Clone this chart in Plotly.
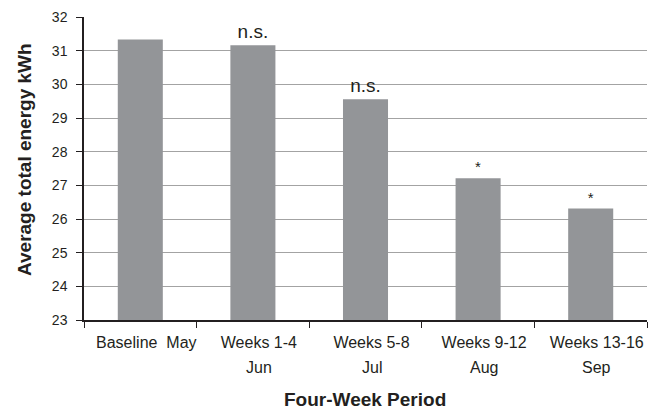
import plotly.graph_objects as go

# Average total energy use per four-week period
periods = ["Baseline  May", "Weeks 1-4", "Weeks 5-8", "Weeks 9-12", "Weeks 13-16"]
months = ["", "Jun", "Jul", "Aug", "Sep"]
energy_kwh = [31.33, 31.16, 29.56, 27.21, 26.31]
significance = ["", "n.s.", "n.s.", "*", "*"]

FONT = "Liberation Sans, Arial, sans-serif"
INK = "#231f20"
BAR_GREY = "#939598"
LABEL_SHIFT = 6  # category labels sit slightly right of the bar centres

W, H = 657, 412
ML, MR, MT, MB = 84, 10, 17, 92
plot_w = W - ML - MR
plot_h = H - MT - MB


def px_to_paper_y(py):
    return (H - MB - py) / plot_h


def px_to_paper_x(px):
    return (px - ML) / plot_w


fig = go.Figure()
fig.add_trace(go.Bar(
    x=periods,
    y=energy_kwh,
    width=0.4,
    marker=dict(color=BAR_GREY, line=dict(width=0)),
    text=significance,
    textposition="outside",
    textfont=dict(family=FONT, size=[1, 19, 19, 15, 15], color=INK),
    cliponaxis=False,
    showlegend=False,
))

# Second line of each category label (month)
for p, m in zip(periods, months):
    if m:
        fig.add_annotation(
            x=p, xref="x", y=px_to_paper_y(367), yref="paper", xshift=LABEL_SHIFT,
            text=m, showarrow=False,
            font=dict(family=FONT, size=16, color=INK),
            yanchor="middle",
        )

# Axis titles
fig.add_annotation(
    x=px_to_paper_x(24), xref="paper", xanchor="center",
    y=px_to_paper_y(160), yref="paper", yanchor="middle",
    text="<b>Average total energy kWh</b>", textangle=-90, showarrow=False,
    font=dict(family=FONT, size=19, color=INK),
)
fig.add_annotation(
    x=px_to_paper_x(365), xref="paper", xanchor="center",
    y=px_to_paper_y(399), yref="paper", yanchor="middle",
    text="<b>Four-Week Period</b>", showarrow=False,
    font=dict(family=FONT, size=19, color=INK),
)

fig.update_layout(
    width=W, height=H,
    margin=dict(l=ML, r=MR, t=MT, b=MB),
    plot_bgcolor="white", paper_bgcolor="white",
    bargap=0.6,
    font=dict(family=FONT, color=INK),
)

fig.update_xaxes(
    type="category",
    tickson="boundaries",
    ticks="outside", ticklen=6, tickcolor=INK, tickwidth=1,
    showline=True, linecolor=INK, linewidth=1.5,
    showgrid=False,
    tickfont=dict(family=FONT, size=16, color=INK),
    ticklabelstandoff=7,
    ticklabelshift=LABEL_SHIFT,
    automargin=False,
)

fig.update_yaxes(
    range=[23, 32],
    dtick=1,
    ticks="outside", ticklen=6, tickcolor=INK, tickwidth=1,
    showline=True, linecolor=INK, linewidth=1.5,
    showgrid=True, gridcolor="#a3a3a3", gridwidth=1,
    zeroline=False,
    tickfont=dict(family=FONT, size=14, color=INK),
    ticklabelstandoff=6,
    automargin=False,
)

fig.write_html("out.html")
